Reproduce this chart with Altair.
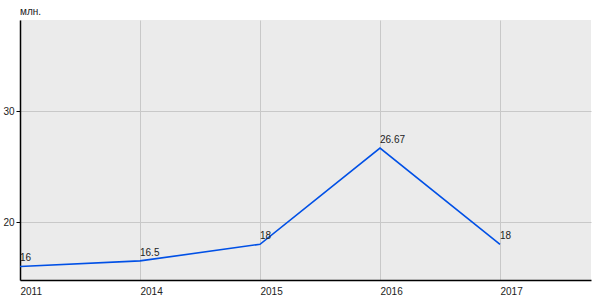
import altair as alt
import pandas as pd

years = ["2011", "2014", "2015", "2016", "2017"]
values = [16, 16.5, 18, 26.67, 18]
labels = ["16", "16.5", "18", "26.67", "18"]
unit_label = "млн."

df = pd.DataFrame({"idx": list(range(len(years))), "year": years, "value": values, "label": labels})
unit_df = pd.DataFrame({"t": [unit_label]})

W, H = 571, 260
FONT = "Liberation Sans"
FS = 10
year_arr = "[" + ",".join(f"'{y}'" for y in years) + "]"

x = alt.X("idx:Q",
          scale=alt.Scale(domain=[0, W / 120], nice=False, zero=False),
          axis=alt.Axis(values=list(range(len(years))), labelExpr=f"{year_arr}[datum.value]",
                        title=None, ticks=False, labelAlign="left", labelPadding=6,
                        labelFont=FONT, labelFontSize=FS, labelColor="#222",
                        domainColor="#000", domainWidth=1.5,
                        gridColor="#c8c8c8", gridWidth=1, labelFlush=False))
y = alt.Y("value:Q",
          scale=alt.Scale(domain=[14.78, 38.2], nice=False, zero=False),
          axis=alt.Axis(values=[20, 30], title=None, tickSize=4, tickColor="#000",
                        labelPadding=2, labelFont=FONT, labelFontSize=FS, labelColor="#222",
                        domainColor="#000", domainWidth=1.5,
                        gridColor="#c8c8c8", gridWidth=1))

base = alt.Chart(df)
line = base.mark_line(color="#0050e6", strokeWidth=1.6, clip=True).encode(x=x, y=y)
text = base.mark_text(align="left", baseline="alphabetic", dx=0, dy=-5, font=FONT,
                      fontSize=FS, color="#222").encode(x="idx:Q", y="value:Q", text="label:N")
unit = alt.Chart(unit_df).mark_text(align="left", baseline="alphabetic", font=FONT, fontSize=FS,
                                    color="#222").encode(x=alt.value(0), y=alt.value(-5), text="t:N")

chart = (line + text + unit).properties(
    width=W, height=H,
    background="white",
    autosize=alt.AutoSizeParams(type="none"),
    padding={"left": 20, "top": 20, "right": 9, "bottom": 20},
).configure_view(fill="#ebebeb", stroke=None)

chart.save("out.html", embed_options={"renderer": "svg", "actions": False})
